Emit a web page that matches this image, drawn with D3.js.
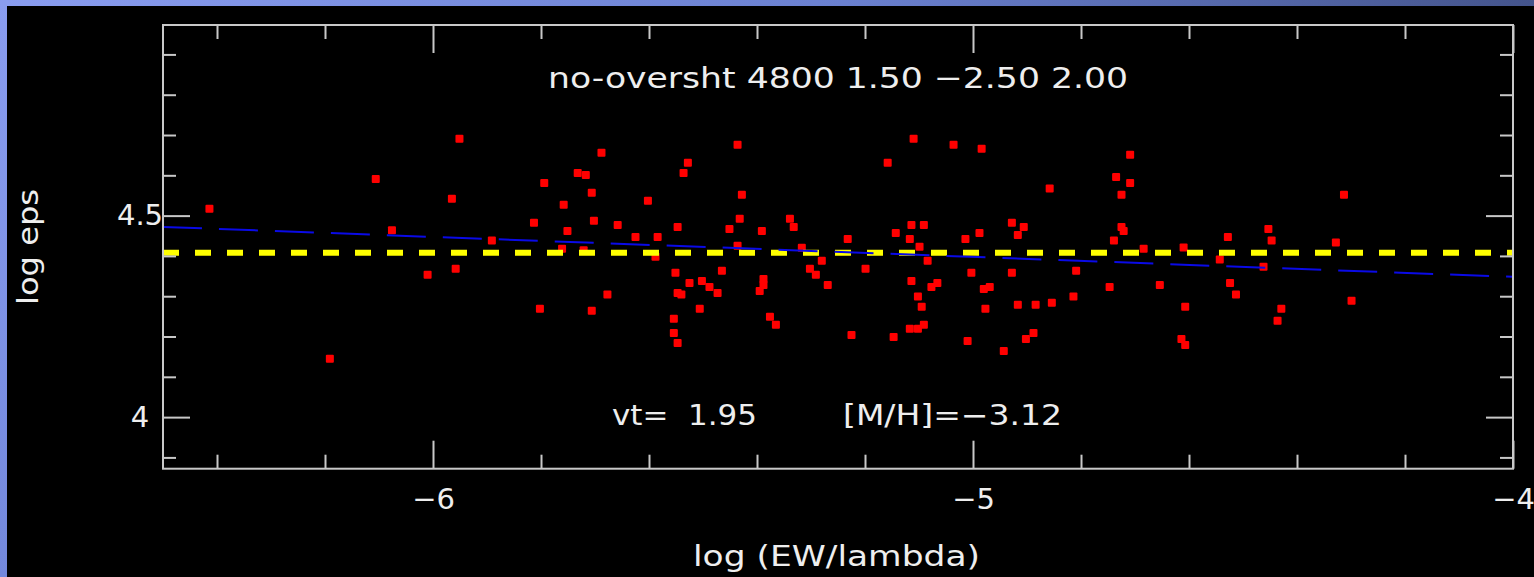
<!DOCTYPE html>
<html>
<head>
<meta charset="utf-8">
<script src="https://cdn.jsdelivr.net/npm/d3@7"></script>
<style>
  html, body { margin: 0; padding: 0; background: #000; overflow: hidden; }
  text { font-family: "DejaVu Sans", sans-serif; fill: #eeeeee; }
</style>
</head>
<body>
<div id="box"></div>
<script>
// chart data
var xDomain = [-6.5, -4];
var yDomain = [3.872, 4.973];
var xMajor = [-6, -5, -4];
var xMajorLabels = ["\u22126", "\u22125", "\u22124"];
var xMinor = [-6.4, -6.2, -5.8, -5.6, -5.4, -5.2, -4.8, -4.6, -4.4, -4.2];
var yMajor = [4, 4.5];
var yMajorLabels = ["4", "4.5"];
var yMinor = [3.9, 4.1, 4.2, 4.3, 4.4, 4.6, 4.7, 4.8, 4.9];

var titleText = "no-oversht 4800 1.50 \u22122.50 2.00";
var vtText = "vt=  1.95";
var mhText = "[M/H]=\u22123.12";
var xLabel = "log (EW/lambda)";
var yLabel = "log eps";

// mean abundance (yellow) and fitted trend (blue)
var meanEps = 4.408;
var fitLine = [[-6.5, 4.472], [-4, 4.348]];

// log(EW/lambda), log eps for each line
var lineX = [
  -6.414, -6.106, -5.951, -5.965, -6.076, -5.891, -5.794, -5.732, -5.717, -5.688,
  -5.706, -5.758, -5.813, -5.751, -5.702, -5.761, -5.721, -6.010, -5.958, -5.802,
  -5.706, -6.191, -5.677, -5.658, -5.602, -5.625, -5.584, -5.588, -5.547, -5.528,
  -5.536, -5.551, -5.547, -5.540, -5.525, -5.502, -5.488, -5.473, -5.465, -5.506,
  -5.554, -5.554, -5.547, -5.436, -5.428, -5.432, -5.451, -5.436, -5.391, -5.388,
  -5.388, -5.395, -5.376, -5.365, -5.339, -5.332, -5.317, -5.302, -5.291, -5.280,
  -5.269, -5.232, -5.225, -5.199, -5.158, -5.110, -5.036, -4.984, -5.143, -5.114,
  -5.091, -5.117, -5.099, -5.084, -5.114, -5.102, -5.095, -5.117, -5.102, -5.091,
  -5.147, -5.077, -5.066, -5.014, -4.988, -5.003, -4.980, -4.969, -4.977, -5.010,
  -4.943, -4.928, -4.906, -4.917, -4.928, -4.917, -4.884, -4.888, -4.902, -4.858,
  -4.854, -4.809, -4.814, -4.747, -4.739, -4.735, -4.725, -4.709, -4.709, -4.725,
  -4.721, -4.684, -4.654, -4.610, -4.607, -4.614, -4.607, -4.543, -4.528, -4.524,
  -4.513, -4.462, -4.453, -4.447, -4.429, -4.436, -4.328, -4.313, -4.299
];
var lineEps = [
  4.517, 4.591, 4.691, 4.542, 4.464, 4.438, 4.581, 4.606, 4.601, 4.656,
  4.557, 4.527, 4.482, 4.462, 4.487, 4.418, 4.414, 4.353, 4.368, 4.269,
  4.264, 4.145, 4.304, 4.477, 4.537, 4.447, 4.447, 4.398, 4.472, 4.631,
  4.606, 4.358, 4.308, 4.304, 4.333, 4.338, 4.323, 4.308, 4.363, 4.269,
  4.244, 4.209, 4.184, 4.676, 4.552, 4.492, 4.467, 4.425, 4.462, 4.343,
  4.328, 4.313, 4.249, 4.229, 4.492, 4.472, 4.420, 4.368, 4.353, 4.388,
  4.328, 4.442, 4.204, 4.368, 4.631, 4.691, 4.676, 4.666, 4.457, 4.477,
  4.477, 4.442, 4.423, 4.388, 4.338, 4.299, 4.274, 4.219, 4.219, 4.229,
  4.199, 4.323, 4.333, 4.442, 4.457, 4.358, 4.318, 4.323, 4.269, 4.189,
  4.164, 4.482, 4.472, 4.452, 4.358, 4.279, 4.279, 4.209, 4.194, 4.567,
  4.284, 4.363, 4.299, 4.323, 4.438, 4.596, 4.552, 4.651, 4.581, 4.472,
  4.462, 4.418, 4.328, 4.421, 4.274, 4.194, 4.179, 4.391, 4.447, 4.333,
  4.304, 4.373, 4.467, 4.438, 4.269, 4.239, 4.433, 4.552, 4.289
];

var width = 1534;
var height = 577;
var frameColor = "#c8c8c8";

var svg = d3.select("#box").append("svg")
  .attr("width", width)
  .attr("height", height);

// blue slide border (top and left)
var defs = svg.append("defs");
var gTop = defs.append("linearGradient").attr("id", "gTop")
  .attr("x1", 0).attr("x2", 1).attr("y1", 0).attr("y2", 0);
gTop.append("stop").attr("offset", 0).attr("stop-color", "#8a9df0");
gTop.append("stop").attr("offset", 0.55).attr("stop-color", "#6a80d0");
gTop.append("stop").attr("offset", 1).attr("stop-color", "#44548c");
var gLeft = defs.append("linearGradient").attr("id", "gLeft")
  .attr("x1", 0).attr("x2", 0).attr("y1", 0).attr("y2", 1);
gLeft.append("stop").attr("offset", 0).attr("stop-color", "#8a9df0");
gLeft.append("stop").attr("offset", 1).attr("stop-color", "#7388dc");

svg.append("rect").attr("width", width).attr("height", height).attr("fill", "#000");
svg.append("rect").attr("x", 0).attr("y", 0).attr("width", width).attr("height", 6)
  .attr("fill", "url(#gTop)");
svg.append("rect").attr("x", 0).attr("y", 0).attr("width", 7).attr("height", height)
  .attr("fill", "url(#gLeft)");

var x = d3.scaleLinear().domain(xDomain).range([163, 1513]);
var y = d3.scaleLinear().domain(yDomain).range([468.7, 25]);

var pts = lineX.map(function(d, i) { return {x: d, y: lineEps[i]}; });

// points
svg.append("g").selectAll("rect")
  .data(pts)
  .enter()
  .append("rect")
  .attr("x", function(d) { return x(d.x) - 4; })
  .attr("y", function(d) { return y(d.y) - 4; })
  .attr("width", 8)
  .attr("height", 8)
  .attr("rx", 1)
  .attr("fill", "#ff0000");

// mean line
svg.append("line")
  .attr("x1", x(xDomain[0])).attr("x2", x(xDomain[1]))
  .attr("y1", y(meanEps)).attr("y2", y(meanEps))
  .attr("stroke", "#ffff00")
  .attr("stroke-width", 6)
  .attr("stroke-dasharray", "16,16");

// trend line
svg.append("path")
  .datum(fitLine)
  .attr("fill", "none")
  .attr("stroke", "#0a0ae6")
  .attr("stroke-width", 2)
  .attr("stroke-dasharray", "39,17")
  .attr("d", d3.line().x(function(d) { return x(d[0]); }).y(function(d) { return y(d[1]); }));

// axes (ticks pointing inward)
function styleAxis(g) {
  g.select(".domain").remove();
  g.selectAll(".tick line").attr("stroke", frameColor).attr("stroke-width", 2);
  g.selectAll(".tick text").attr("fill", "#eeeeee")
    .style("font-family", "DejaVu Sans, sans-serif").style("font-size", "29px");
}

svg.append("g").attr("transform", "translate(0,468.7)")
  .call(d3.axisBottom(x).tickValues(xMinor).tickSize(-14).tickFormat(""))
  .call(styleAxis);
svg.append("g").attr("transform", "translate(0,468.7)")
  .call(d3.axisBottom(x).tickValues(xMajor).tickSize(-28).tickPadding(20)
    .tickFormat(function(d, i) { return xMajorLabels[i]; }))
  .call(styleAxis);
svg.append("g").attr("transform", "translate(0,25)")
  .call(d3.axisTop(x).tickValues(xMinor).tickSize(-14).tickFormat(""))
  .call(styleAxis);
svg.append("g").attr("transform", "translate(0,25)")
  .call(d3.axisTop(x).tickValues(xMajor).tickSize(-28).tickFormat(""))
  .call(styleAxis);

svg.append("g").attr("transform", "translate(163,0)")
  .call(d3.axisLeft(y).tickValues(yMinor).tickSize(-13).tickFormat(""))
  .call(styleAxis);
svg.append("g").attr("transform", "translate(163,0)")
  .call(d3.axisLeft(y).tickValues(yMajor).tickSize(-27).tickPadding(3)
    .tickFormat(function(d, i) { return yMajorLabels[i]; }))
  .call(styleAxis);
svg.append("g").attr("transform", "translate(1513,0)")
  .call(d3.axisRight(y).tickValues(yMinor).tickSize(-13).tickFormat(""))
  .call(styleAxis);
svg.append("g").attr("transform", "translate(1513,0)")
  .call(d3.axisRight(y).tickValues(yMajor).tickSize(-27).tickFormat(""))
  .call(styleAxis);

// y tick labels sit centred in the margin
svg.selectAll(".tick text").filter(function(d) { return yMajor.indexOf(d) >= 0 && this.getAttribute("x") !== null && +this.getAttribute("x") < 0; })
  .attr("text-anchor", "middle")
  .attr("x", -23);

// frame
svg.append("rect")
  .attr("x", 163).attr("y", 25)
  .attr("width", 1513 - 163).attr("height", 468.7 - 25)
  .attr("fill", "none")
  .attr("stroke", frameColor)
  .attr("stroke-width", 2);

// texts
svg.append("text").attr("x", 548).attr("y", 88)
  .attr("textLength", 580).attr("lengthAdjust", "spacingAndGlyphs")
  .style("font-size", "29px").text(titleText);
svg.append("text").attr("x", 612).attr("y", 425)
  .attr("textLength", 145).attr("lengthAdjust", "spacingAndGlyphs")
  .style("font-size", "28px").style("white-space", "pre").text(vtText);
svg.append("text").attr("x", 843).attr("y", 425)
  .attr("textLength", 219).attr("lengthAdjust", "spacingAndGlyphs")
  .style("font-size", "28px").text(mhText);
svg.append("text").attr("x", 693).attr("y", 566)
  .attr("textLength", 287).attr("lengthAdjust", "spacingAndGlyphs")
  .style("font-size", "28px").text(xLabel);
svg.append("text")
  .attr("transform", "translate(38,305) rotate(-90)")
  .attr("textLength", 116).attr("lengthAdjust", "spacingAndGlyphs")
  .style("font-size", "28px").text(yLabel);
</script>
</body>
</html>
